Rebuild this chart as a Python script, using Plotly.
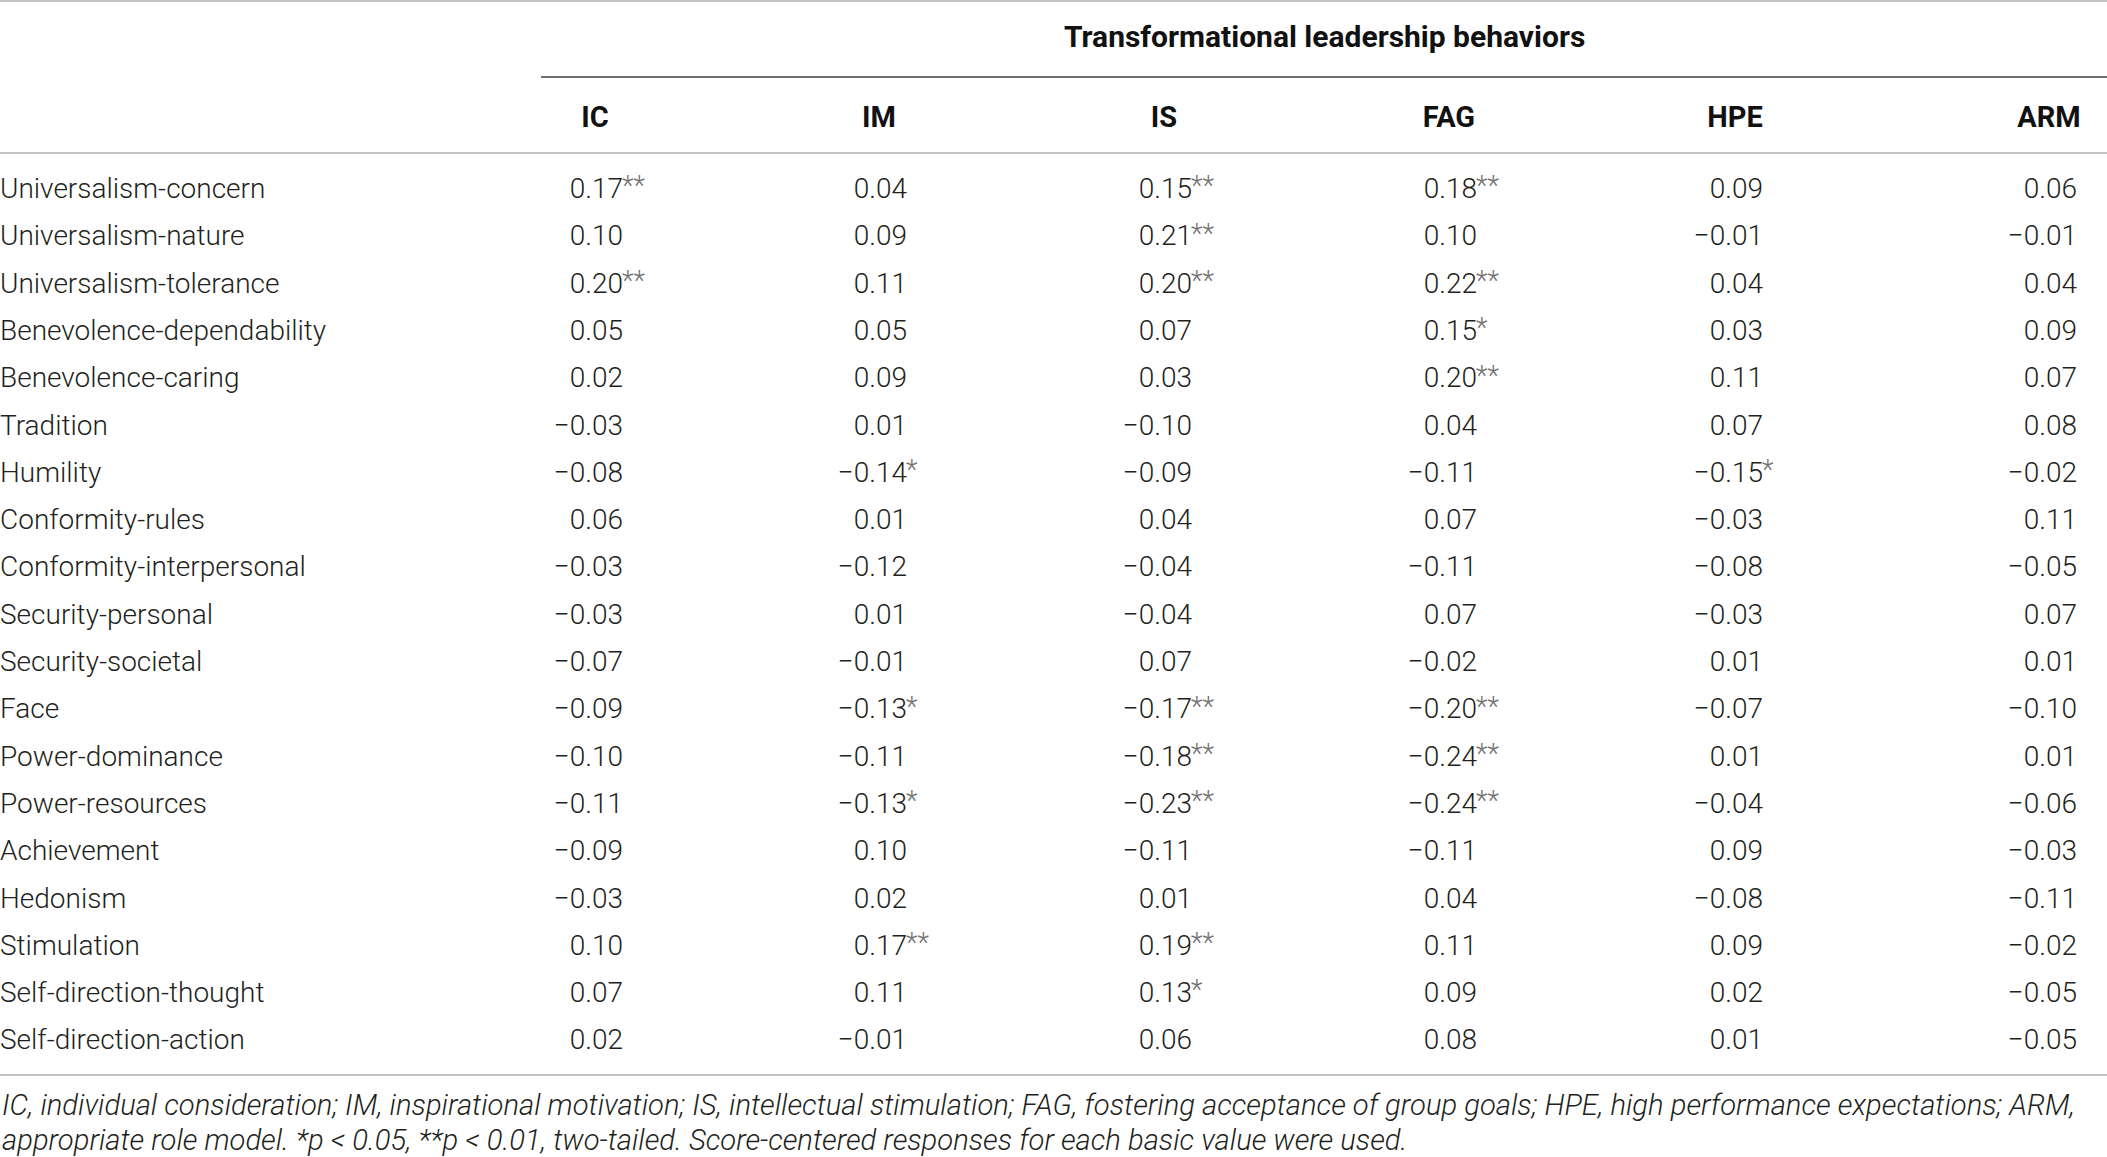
import plotly.graph_objects as go

values = [
    "Universalism-concern", "Universalism-nature", "Universalism-tolerance",
    "Benevolence-dependability", "Benevolence-caring", "Tradition", "Humility",
    "Conformity-rules", "Conformity-interpersonal", "Security-personal",
    "Security-societal", "Face", "Power-dominance", "Power-resources",
    "Achievement", "Hedonism", "Stimulation", "Self-direction-thought",
    "Self-direction-action",
]
behaviors = ["IC", "IM", "IS", "FAG", "HPE", "ARM"]

ic = [0.17, 0.10, 0.20, 0.05, 0.02, -0.03, -0.08, 0.06, -0.03, -0.03, -0.07, -0.09, -0.10, -0.11, -0.09, -0.03, 0.10, 0.07, 0.02]
im = [0.04, 0.09, 0.11, 0.05, 0.09, 0.01, -0.14, 0.01, -0.12, 0.01, -0.01, -0.13, -0.11, -0.13, 0.10, 0.02, 0.17, 0.11, -0.01]
is_ = [0.15, 0.21, 0.20, 0.07, 0.03, -0.10, -0.09, 0.04, -0.04, -0.04, 0.07, -0.17, -0.18, -0.23, -0.11, 0.01, 0.19, 0.13, 0.06]
fag = [0.18, 0.10, 0.22, 0.15, 0.20, 0.04, -0.11, 0.07, -0.11, 0.07, -0.02, -0.20, -0.24, -0.24, -0.11, 0.04, 0.11, 0.09, 0.08]
hpe = [0.09, -0.01, 0.04, 0.03, 0.11, 0.07, -0.15, -0.03, -0.08, -0.03, 0.01, -0.07, 0.01, -0.04, 0.09, -0.08, 0.09, 0.02, 0.01]
arm = [0.06, -0.01, 0.04, 0.09, 0.07, 0.08, -0.02, 0.11, -0.05, 0.07, 0.01, -0.10, 0.01, -0.06, -0.03, -0.11, -0.02, -0.05, -0.05]

# significance marks (* p < 0.05, ** p < 0.01)
ic_sig = ["**", "", "**", "", "", "", "", "", "", "", "", "", "", "", "", "", "", "", ""]
im_sig = ["", "", "", "", "", "", "*", "", "", "", "", "*", "", "*", "", "", "**", "", ""]
is_sig = ["**", "**", "**", "", "", "", "", "", "", "", "", "**", "**", "**", "", "", "**", "*", ""]
fag_sig = ["**", "", "**", "*", "**", "", "", "", "", "", "", "**", "**", "**", "", "", "", "", ""]
hpe_sig = ["", "", "", "", "", "", "*", "", "", "", "", "", "", "", "", "", "", "", ""]
arm_sig = [""] * 19

group_title = "Transformational leadership behaviors"
footnote = [
    "IC, individual consideration; IM, inspirational motivation; IS, intellectual stimulation; "
    "FAG, fostering acceptance of group goals; HPE, high performance expectations; ARM,",
    "appropriate role model. *p < 0.05, **p < 0.01, two-tailed. "
    "Score-centered responses for each basic value were used.",
]

# ---- layout constants (pixels) ----
W, H = 2107, 1157
ROW0_PX, ROW_STEP = 191, 47.3
col_right = [623, 907, 1192, 1477, 1763, 2077]  # right edge of the numbers
NUM_HALF = 28  # half width of "0.00"
FONT = "Roboto"
TEXT = "#231f20"
RULE_LIGHT = "#c4c4c4"
RULE_DARK = "#6e6e6e"


def py(p):
    """pixel row -> y axis units (row index)"""
    return (p - ROW0_PX) / ROW_STEP


def fmt(v):
    s = f"{abs(v):.2f}"
    return ("\u2212" + s) if v < 0 else s


columns = [ic, im, is_, fag, hpe, arm]
sigs = [ic_sig, im_sig, is_sig, fag_sig, hpe_sig, arm_sig]
rows = list(range(len(values)))

fig = go.Figure()

fig.add_trace(
    go.Scatter(
        x=[0] * len(values),
        y=rows,
        text=values,
        mode="text",
        textposition="middle right",
        textfont=dict(family=FONT, size=28, color=TEXT, weight=300),
        hoverinfo="skip",
    )
)

for xr, col, sig in zip(col_right, columns, sigs):
    fig.add_trace(
        go.Scatter(
            x=[xr] * len(col),
            y=rows,
            text=[fmt(v) for v in col],
            mode="text",
            textposition="middle left",
            textfont=dict(family=FONT, size=28, color=TEXT, weight=300),
            hoverinfo="skip",
        )
    )
    # stars sit a touch higher than the figures
    fig.add_trace(
        go.Scatter(
            x=[xr - 1] * len(sig),
            y=[r - 0.05 for r in rows],
            text=sig,
            mode="text",
            textposition="middle right",
            textfont=dict(family=FONT, size=27, color="#707070", weight=300),
            hoverinfo="skip",
        )
    )

# column headers
fig.add_trace(
    go.Scatter(
        x=[xr - NUM_HALF for xr in col_right],
        y=[py(120)] * len(behaviors),
        text=behaviors,
        mode="text",
        textposition="middle center",
        textfont=dict(family=FONT, size=29, color="#111111", weight=700),
        hoverinfo="skip",
    )
)

annotations = [
    dict(
        x=(541 + W) / 2, y=py(36), xref="x", yref="y", text=f"<b>{group_title}</b>",
        showarrow=False, xanchor="center", yanchor="middle",
        font=dict(family=FONT, size=30, color="#111111"),
    )
]
for i, line in enumerate(footnote):
    annotations.append(
        dict(
            x=0, y=py(1105 + 35 * i), xref="x", yref="y", text=f"<i>{line}</i>",
            showarrow=False, xanchor="left", yanchor="middle",
            font=dict(family=FONT, size=29.2, color=TEXT, weight=300),
        )
    )

shapes = []
for x0, yp, color in [(0, 1, RULE_LIGHT), (541, 77, RULE_DARK), (0, 153, RULE_LIGHT), (0, 1075, RULE_LIGHT)]:
    shapes.append(
        dict(type="line", xref="x", yref="y", x0=x0, x1=W, y0=py(yp), y1=py(yp),
             line=dict(color=color, width=2))
    )

fig.update_layout(
    width=W,
    height=H,
    margin=dict(l=0, r=0, t=0, b=0),
    paper_bgcolor="white",
    plot_bgcolor="white",
    showlegend=False,
    xaxis=dict(range=[0, W], visible=False, fixedrange=True),
    yaxis=dict(range=[py(H), py(0)], visible=False, fixedrange=True),
    annotations=annotations,
    shapes=shapes,
)

# drop the default page margin so the figure sits at the window's corner
fig.write_html(
    "out.html",
    config={"displayModeBar": False},
    post_script="document.body.style.margin='0';document.body.style.overflow='hidden';",
)
